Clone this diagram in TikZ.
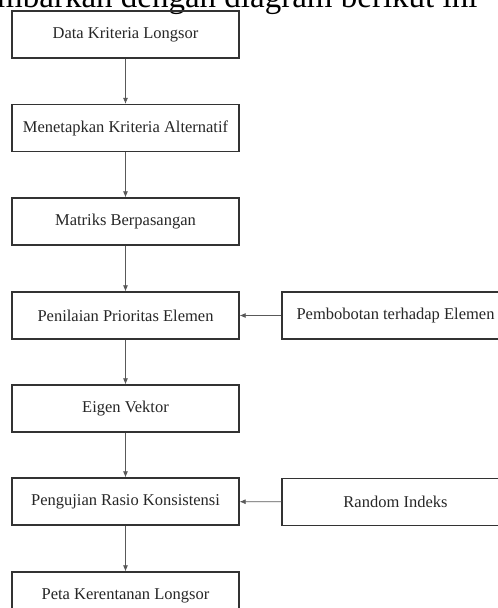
\documentclass[tikz,border=0pt]{standalone}
\usepackage{fontspec}
\setmainfont{Liberation Serif}
\usetikzlibrary{arrows.meta}

\tikzset{
  stepbox/.style={draw=black!80, line width=1.3pt, minimum width=227pt,
    minimum height=47pt, inner sep=0pt, text=black!85,
    font=\fontsize{16.5}{19}\selectfont},
  flow/.style={draw=black!65, line width=0.7pt,
    -{Latex[length=6pt,width=5pt]}}
}

\begin{document}
\begin{tikzpicture}[x=1pt,y=-1pt]
  \useasboundingbox (0,0) rectangle (498,608);
  \clip (0,0) rectangle (498,608);
  % Cut-off line of text above the diagram
  \node[anchor=base west, inner sep=0pt, font=\fontsize{33}{38}\selectfont] (caption) at (-3,7) {mbarkan dengan diagram berikut ini};
  % Main column
  \node[stepbox] (data) at (125.5,34.5) {Data Kriteria Longsor};
  \node[stepbox] (kriteria) at (125.5,128) {Menetapkan Kriteria Alternatif};
  \node[stepbox] (matriks) at (125.5,221.5) {Matriks Berpasangan};
  \node[stepbox] (nilai) at (125.5,315.5) {Penilaian Prioritas Elemen};
  \node[stepbox] (eigen) at (125.5,408.5) {Eigen Vektor};
  \node[stepbox] (uji) at (125.5,501.5) {Pengujian Rasio Konsistensi};
  \node[stepbox] (peta) at (125.5,595.5) {Peta Kerentanan Longsor};
  % Side inputs
  \node[stepbox] (bobot) at (395.5,315.5) {Pembobotan terhadap Elemen};
  \node[stepbox] (random) at (395.5,502) {Random Indeks};
  % Arrows
  \draw[flow] (data) -- (kriteria);
  \draw[flow] (kriteria) -- (matriks);
  \draw[flow] (matriks) -- (nilai);
  \draw[flow] (nilai) -- (eigen);
  \draw[flow] (eigen) -- (uji);
  \draw[flow] (uji) -- (peta);
  \draw[flow] (bobot) -- (nilai);
  \draw[flow] (random) -- (uji);
\end{tikzpicture}
\end{document}
